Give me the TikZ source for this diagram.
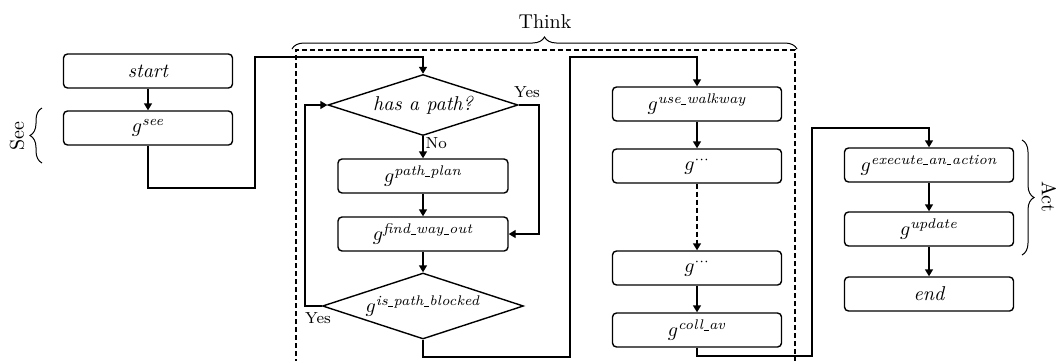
\documentclass[tikz,border=0pt]{standalone}
\usetikzlibrary{shapes.geometric,arrows.meta,decorations.pathreplacing}
\newcommand\usc{\kern0.03em\rule[-0.15ex]{0.35em}{0.35pt}\kern0.03em}
\newcommand\gsupx[1]{$g^{\mbox{\scriptsize\itshape #1}}$}
\begin{document}
\begin{tikzpicture}[x=0.5pt,y=-0.5pt,
  line width=0.7pt,
  box/.style={draw, rounded corners=2pt, minimum width=84.5pt, minimum height=17pt, inner sep=0pt},
  dec/.style={draw, diamond, aspect=3, inner sep=0pt},
  arr/.style={-{Triangle[width=4pt,length=3.5pt]}},
  lbl/.style={font=\footnotesize, inner sep=1pt},
  dsh/.style={dash pattern=on 2.5pt off 1.5pt}]
\useasboundingbox (0,0) rectangle (1058,360);
% column 1
\node[box] (start) at (148,71) {\itshape start};
\node[box] (see) at (148,128) {\gsupx{see}};
% column 2
\node[dec, minimum width=95pt, minimum height=30.5pt] (has) at (423,105) {\itshape has a path?};
\node[box, minimum width=85pt] (pp) at (423,176) {\gsupx{path\usc plan}};
\node[box, minimum width=85pt] (fw) at (423,234) {\gsupx{find\usc way\usc out}};
\node[dec, minimum width=100.5pt, minimum height=33pt] (ipb) at (423,306) {\gsupx{is\usc path\usc blocked}};
% column 3
\node[box] (uw) at (697,104) {\gsupx{use\usc walkway}};
\node[box] (d1) at (697,166) {$g^{\cdots}$};
\node[box] (d2) at (697,268) {$g^{\cdots}$};
\node[box] (ca) at (697,330) {\gsupx{coll\usc av}};
% column 4
\node[box] (ex) at (929,165) {\gsupx{execute\usc an\usc action}};
\node[box] (up) at (929,229) {\gsupx{update}};
\node[box] (en) at (929,294) {\itshape end};
% helper coordinates
\coordinate (c1) at (255,188);
\coordinate (c2) at (255,57);
\coordinate (y1) at (539,105);
\coordinate (y2) at (305,306);
\coordinate (c3) at (570,357);
\coordinate (c4) at (570,57);
\coordinate (c5) at (812,356);
\coordinate (c6) at (812,128);
% connectors
\draw[arr] (start) -- (see);
\draw[arr] (see.south) |- (c1) -- (c2) -| (has.north);
\draw[arr] (has.east) -- (y1) |- (fw.east);
\draw[arr] (has.south) -- node[lbl, right, pos=0.3] (no) {No} (pp.north);
\draw[arr] (pp) -- (fw);
\draw[arr] (fw) -- (ipb);
\draw[arr] (ipb.west) -- (y2) |- (has.west);
\draw[arr] (ipb.south) |- (c3) -- (c4) -| (uw.north);
\draw[arr] (uw) -- (d1);
\draw[arr, dsh] (d1) -- (d2);
\draw[arr] (d2) -- (ca);
\draw[arr] (ca.south) |- (c5) -- (c6) -| (ex.north);
\draw[arr] (ex) -- (up);
\draw[arr] (up) -- (en);
% labels
\node[lbl] (yes1) at (527,92) {Yes};
\node[lbl] (yes2) at (318,318) {Yes};
% think region
\draw[dsh] (296,420) -- (296,50) -- (795,50) -- (795,420);
\draw[decorate, decoration={brace, amplitude=6pt}, line width=0.5pt] (292,49) -- (797,49);
\node (think) at (545,22) {Think};
% see brace
\draw[decorate, decoration={brace, amplitude=6pt}, line width=0.5pt] (42,163) -- (42,108);
\node[rotate=90] (seel) at (17,136) {See};
% act brace
\draw[decorate, decoration={brace, amplitude=6pt}, line width=0.5pt] (1022,140) -- (1022,255);
\node[rotate=-90, inner sep=0pt] (act) at (1049,197) {Act};
\end{tikzpicture}
\end{document}
